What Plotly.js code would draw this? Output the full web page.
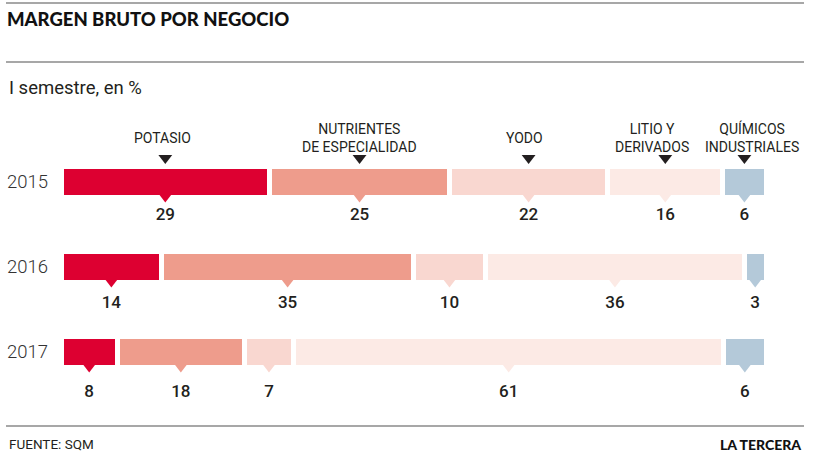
<!DOCTYPE html>
<html><head><meta charset="utf-8">
<script src="https://cdn.plot.ly/plotly-3.0.1.min.js"></script>
<style>html,body{margin:0;padding:0;background:#fff}</style>
</head><body><div id="chart" style="width:820px;height:455px"></div>
<script>
// ---- data ----
const years = ['2015', '2016', '2017'];
const businesses = ['POTASIO', 'NUTRIENTES<br>DE ESPECIALIDAD', 'YODO', 'LITIO Y<br>DERIVADOS', 'QUÍMICOS<br>INDUSTRIALES'];
const potasio = [29, 14, 8];
const nutrientes = [25, 35, 18];
const yodo = [22, 10, 7];
const litio = [16, 36, 61];
const quimicos = [6, 3, 6];

// ---- styles ----
const colors = ['#DD0031', '#EE9C8C', '#F9D7D0', '#FCEAE5', '#B4C9D9'];
const labelShift = [-3, 0, -4, -13, 8];
const series = [potasio, nutrientes, yodo, litio, quimicos];
const PX = 85; // pixels per row unit
const rows = years.map((_, i) => i);
const sums = rows.map(i => series.reduce((s, a) => s + a[i], 0));
// centre of each segment in percent units (matches barnorm 'percent')
const centers = series.map((_, j) => rows.map(i => {
  let cum = 0; for (let k = 0; k < j; k++) cum += series[k][i];
  return (cum + series[j][i] / 2) / sums[i] * 100;
}));

const traces = [];
series.forEach((vals, j) => {
  traces.push({
    type: 'bar', orientation: 'h', x: vals, y: rows, width: 31 / PX,
    marker: {color: colors[j], line: {color: '#ffffff', width: 5}},
    hoverinfo: 'skip'
  });
});
series.forEach((vals, j) => {
  traces.push({
    type: 'scatter', mode: 'markers', x: centers[j], y: rows.map(i => i + 15.5 / PX),
    marker: {symbol: 'triangle-down', size: 10, color: colors[j], line: {width: 0}},
    hoverinfo: 'skip'
  });
});
// black pointers above first row
traces.push({
  type: 'scatter', mode: 'markers', x: centers.map(c => c[0]), y: centers.map(() => -24 / PX),
  marker: {symbol: 'triangle-down', size: 12, color: '#231F20', line: {width: 0}},
  hoverinfo: 'skip'
});
// value labels
const lx = [], ly = [], lt = [];
series.forEach((vals, j) => rows.forEach(i => {
  lx.push(centers[j][i]); ly.push(i + (33.5 + 3.5 * i) / PX); lt.push(String(vals[i]));
}));
traces.push({
  type: 'scatter', mode: 'text', x: lx, y: ly, text: lt, textposition: 'middle center',
  textfont: {family: 'Roboto', size: 17, color: '#231F20', weight: 500},
  hoverinfo: 'skip'
});

// plot area: x 61..766, y 100..430
const T = 100, B = 430, L = 61, R = 766;
const yTop = -(182 - T) / PX, yBot = (B - 182) / PX;
const py = p => (B - p) / (B - T);
const pxp = p => (p - L) / (R - L);

const annotations = businesses.map((b, j) => ({
  x: centers[j][0], y: (137.5 - 182) / PX, xref: 'x', yref: 'y', xshift: labelShift[j],
  text: b, showarrow: false, xanchor: 'center', yanchor: 'middle', align: 'center',
  font: {family: 'Roboto', size: 14, color: '#231F20'}
}));
annotations.push(
  {x: pxp(7), y: py(88.5), xref: 'paper', yref: 'paper', text: 'I semestre, en %', showarrow: false,
   xanchor: 'left', yanchor: 'middle', font: {family: 'Roboto', size: 18.5, color: '#231F20'}},
  {x: pxp(7), y: py(444), xref: 'paper', yref: 'paper', text: 'FUENTE: SQM', showarrow: false,
   xanchor: 'left', yanchor: 'middle', font: {family: 'Roboto', size: 13.5, color: '#231F20'}},
  {x: pxp(803), y: py(444), xref: 'paper', yref: 'paper', text: 'LA TERCERA', showarrow: false,
   xanchor: 'right', yanchor: 'middle', font: {family: 'Lato', size: 14, color: '#111', weight: 900}}
);

const hline = p => ({type: 'line', xref: 'paper', yref: 'paper', x0: pxp(6), x1: pxp(804), y0: py(p), y1: py(p),
  line: {color: '#8a8a8a', width: 1.5}});

const layout = {
  width: 820, height: 455,
  margin: {l: L, r: 820 - R, t: T, b: 455 - B, pad: 0},
  paper_bgcolor: '#ffffff', plot_bgcolor: '#ffffff',
  barmode: 'stack', barnorm: 'percent', showlegend: false,
  title: {text: 'MARGEN BRUTO POR NEGOCIO', x: 7 / 820, xref: 'container', xanchor: 'left',
    y: 1 - 20 / 455, yref: 'container', yanchor: 'middle',
    font: {family: 'Lato', size: 18.5, color: '#111', weight: 900}},
  xaxis: {range: [0, 100], visible: false, fixedrange: true},
  yaxis: {range: [yBot, yTop], tickvals: rows, ticktext: years, showgrid: false, zeroline: false,
    showline: false, ticks: '', ticklabelstandoff: 12,
    tickfont: {family: 'Roboto', size: 18.5, color: '#333', weight: 300}, fixedrange: true},
  shapes: [hline(3), hline(62), hline(426)],
  annotations: annotations
};

Plotly.newPlot('chart', traces, layout, {staticPlot: true, displayModeBar: false});
</script>
</body></html>
